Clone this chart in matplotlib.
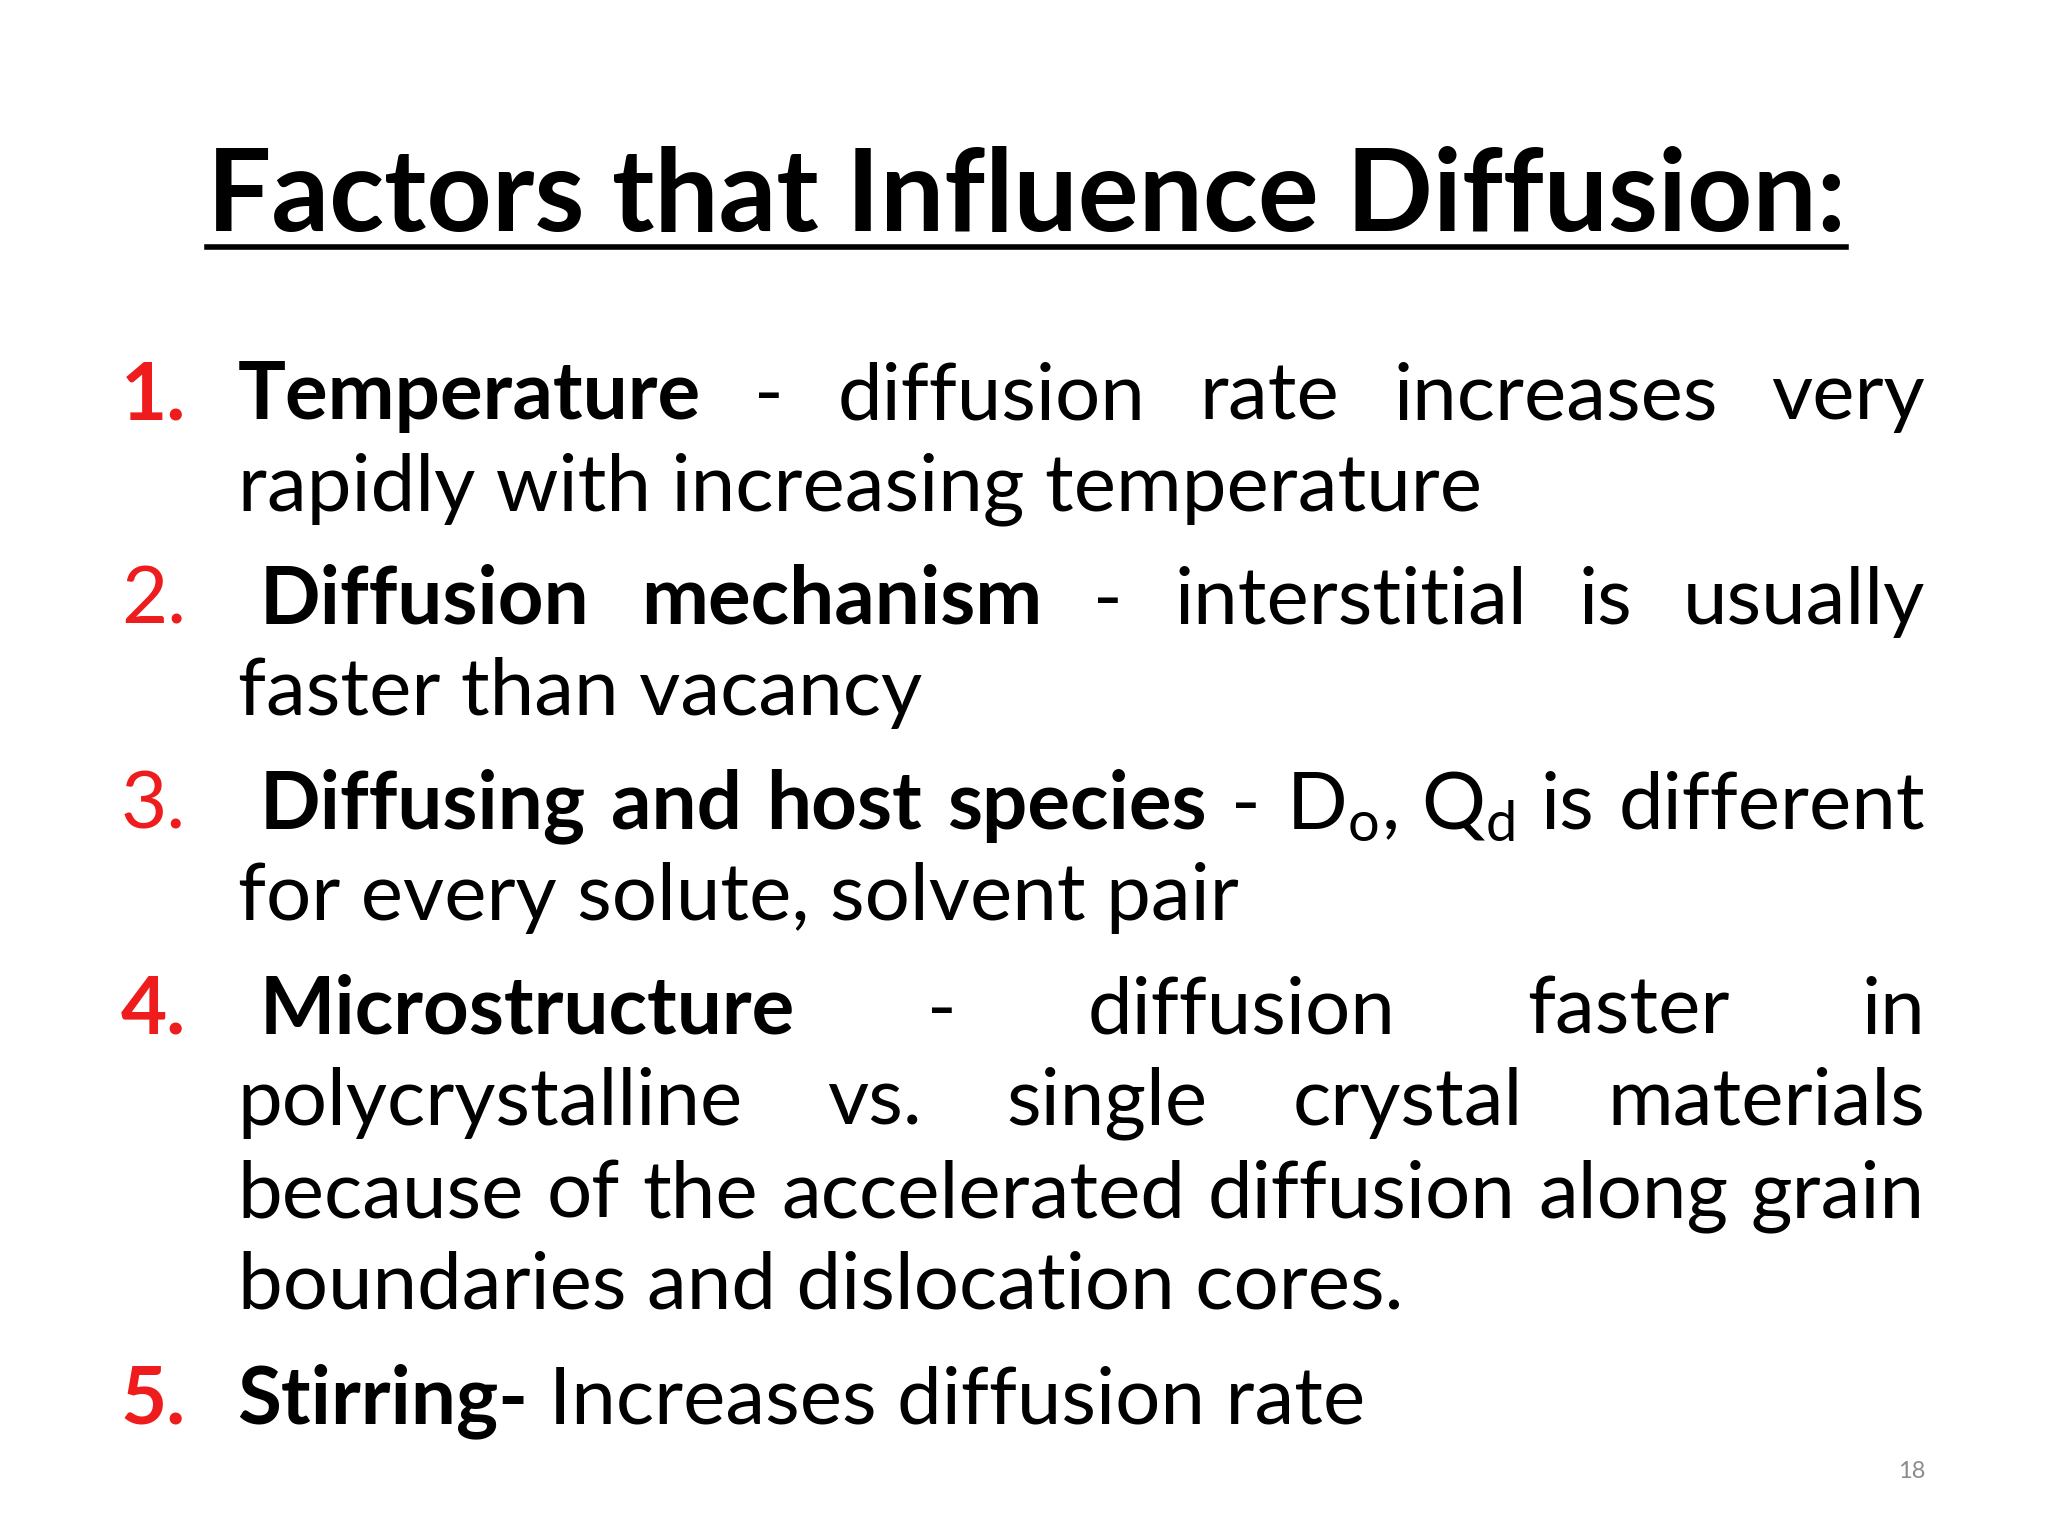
import matplotlib.pyplot as plt
from matplotlib.lines import Line2D

plt.rcParams['font.family'] = ['Lato', 'DejaVu Sans']
plt.rcParams['mathtext.fontset'] = 'custom'
plt.rcParams['mathtext.rm'] = 'Lato'
plt.rcParams['mathtext.it'] = 'Lato'

RED = '#ee1c1c'
title = "Factors that Influence Diffusion:"
numbers = ["1.", "2.", "3.", "4.", "5."]
number_bold = [True, False, False, True, True]
number_rows = [0, 2, 4, 6, 10]

# each row: list of (text, bold), justified flag, indent
rows = [
    ([("Temperature", True), ("-", False), ("diffusion", False), ("rate", False),
      ("increases", False), ("very", False)], True, 0),
    ([("rapidly with increasing temperature", False)], False, 0),
    ([("Diffusion", True), ("mechanism", True), ("-", False), ("interstitial", False),
      ("is", False), ("usually", False)], True, 0.011),
    ([("faster than vacancy", False)], False, 0),
    ([("Diffusing", True), ("and", True), ("host", True), ("species", True), ("-", False),
      ("D$_\\mathrm{o}$,", False), ("Q$_\\mathrm{d}$", False), ("is", False), ("different", False)], True, 0.011),
    ([("for every solute, solvent pair", False)], False, 0),
    ([("Microstructure", True), ("-", False), ("diffusion", False), ("faster", False), ("in", False)], True, 0.011),
    ([("polycrystalline", False), ("vs.", False), ("single", False), ("crystal", False), ("materials", False)], True, 0),
    ([("because", False), ("of", False), ("the", False), ("accelerated", False), ("diffusion", False),
      ("along", False), ("grain", False)], True, 0),
    ([("boundaries and dislocation cores.", False)], False, 0),
    ([("Stirring-", True), ("Increases diffusion rate", False)], False, 0),
]
baselines = [317, 386, 472, 541, 627, 696, 782, 851, 921, 990, 1077]  # px of 1162

W, H = 20.48, 15.36
fig = plt.figure(figsize=(W, H), dpi=100)
fig.patch.set_facecolor('white')
renderer = fig.canvas.get_renderer()
FS = 57.5
X0, X1 = 0.116, 0.940


def width(t):
    return t.get_window_extent(renderer).width / (W * 100)


sp = fig.text(0, 0, "a a", fontsize=FS)
nsp = fig.text(0, 0, "aa", fontsize=FS)
space = width(sp) - width(nsp)
sp.remove()
nsp.remove()

for (words, just, indent), yb in zip(rows, baselines):
    y = 1 - yb / 1162
    texts = [fig.text(0, y, w, fontsize=FS, weight='bold' if b else 'normal',
                      va='baseline', ha='left') for w, b in words]
    ws = [width(t) for t in texts]
    x = X0 + indent
    if just and len(texts) > 1:
        gap = (X1 - x - sum(ws)) / (len(texts) - 1)
    else:
        gap = space
    for t, w in zip(texts, ws):
        t.set_x(x)
        x += w + gap

for n, b, r in zip(numbers, number_bold, number_rows):
    fig.text(0.059, 1 - baselines[r] / 1162, n, fontsize=FS, color=RED,
             weight='bold' if b else 'normal', va='baseline', ha='left')

tt = fig.text(0.501, 1 - 175 / 1162, title, fontsize=82, weight='bold',
              ha='center', va='baseline')
bb = tt.get_window_extent(renderer)
x0, x1 = bb.x0 / (W * 100), bb.x1 / (W * 100)
yl = 1 - 187 / 1162
fig.add_artist(Line2D([x0, x1], [yl, yl], color='black', lw=4))

fig.text(0.940, 1 - 1118 / 1162, "18", fontsize=17, color='#8c8c8c', ha='right', va='baseline')

fig.savefig('out.png', dpi=100)
